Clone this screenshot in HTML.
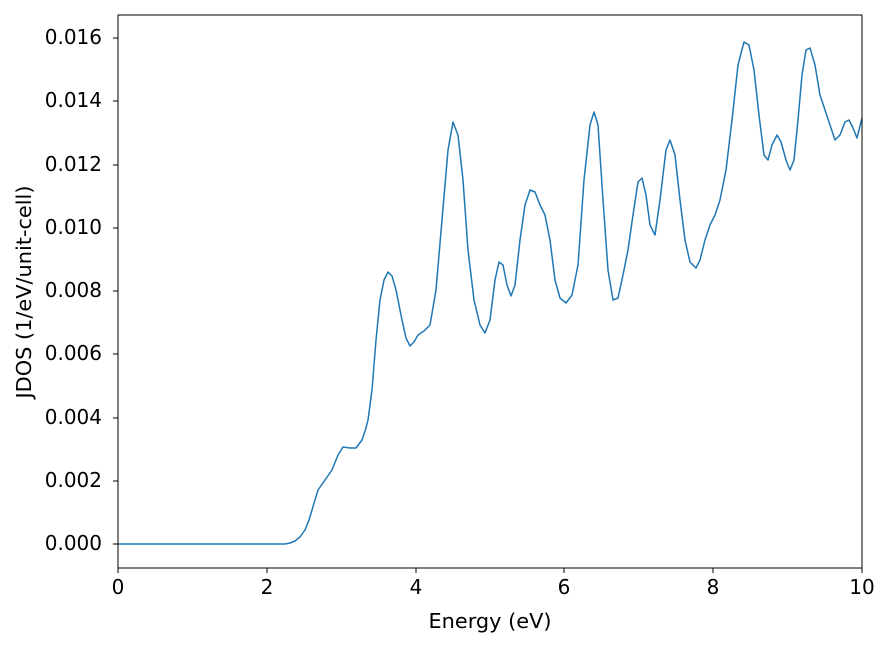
<!DOCTYPE html>
<html><head><meta charset="utf-8"><style>body{margin:0;background:#fff}</style></head><body>
<svg width="889" height="647" viewBox="0 0 889 647" xmlns="http://www.w3.org/2000/svg" font-family="DejaVu Sans, Liberation Sans, sans-serif" font-size="15">
<rect width="889" height="647" fill="#fff"/>
<polyline fill="none" stroke="#1f77b4" stroke-width="1.5" stroke-linejoin="round" points="118,544 285,544 290,543 295,541 300,537 305,530 309,520 312,510 318,490 325,480 332,470 338,455 343,447 350,448 356,448 362,440 366,428 368,420 372,390 376,340 380,300 384,280 388,272 392,276 396,290 402,320 406,338 410,346 414,342 418,335 424,331 430,325 436,290 442,220 448,150 453,122 458,135 463,180 468,250 474,300 480,325 485,333 490,320 495,280 499,262 503,265 507,285 511,296 515,285 520,240 525,205 530,190 535,192 540,205 545,215 550,240 555,280 560,298 566,303 572,295 578,265 584,180 590,125 594,112 598,125 603,200 608,270 613,300 618,298 623,275 628,250 633,215 638,182 642,178 646,195 650,225 655,235 660,200 666,150 670,140 675,155 680,200 685,240 690,262 696,268 700,260 705,240 710,225 715,215 720,200 726,170 732,120 738,65 744,42 749,45 754,70 759,115 764,155 768,160 772,145 777,135 781,142 786,160 790,170 794,160 798,120 802,75 806,50 810,48 815,65 820,95 825,110 830,125 835,140 840,135 845,122 849,120 853,128 857,138 862,118"/>
<rect x="118" y="15" width="744" height="553" fill="none" stroke="#000" stroke-width="1"/>
<g stroke="#000">
<line x1="118" y1="568" x2="118" y2="573"/><line x1="267" y1="568" x2="267" y2="573"/><line x1="416" y1="568" x2="416" y2="573"/><line x1="564" y1="568" x2="564" y2="573"/><line x1="713" y1="568" x2="713" y2="573"/><line x1="862" y1="568" x2="862" y2="573"/>
<line x1="113" y1="544" x2="118" y2="544"/><line x1="113" y1="481" x2="118" y2="481"/><line x1="113" y1="418" x2="118" y2="418"/><line x1="113" y1="354" x2="118" y2="354"/><line x1="113" y1="291" x2="118" y2="291"/><line x1="113" y1="228" x2="118" y2="228"/><line x1="113" y1="165" x2="118" y2="165"/><line x1="113" y1="101" x2="118" y2="101"/><line x1="113" y1="38" x2="118" y2="38"/>
</g>
<g font-size="20" text-anchor="middle">
<text x="118" y="594">0</text><text x="267" y="594">2</text><text x="416" y="594">4</text><text x="564" y="594">6</text><text x="713" y="594">8</text><text x="862" y="594">10</text>
<text x="490" y="628" textLength="123" lengthAdjust="spacingAndGlyphs">Energy (eV)</text>
</g>
<g font-size="20" text-anchor="end">
<text x="102" y="550">0.000</text><text x="102" y="487">0.002</text><text x="102" y="424">0.004</text><text x="102" y="360">0.006</text><text x="102" y="297">0.008</text><text x="102" y="234">0.010</text><text x="102" y="171">0.012</text><text x="102" y="107">0.014</text><text x="102" y="44">0.016</text>
</g>
<text font-size="20" transform="translate(31,292) rotate(-90)" text-anchor="middle" textLength="213" lengthAdjust="spacingAndGlyphs">JDOS (1/eV/unit-cell)</text>
</svg>
</body></html>
